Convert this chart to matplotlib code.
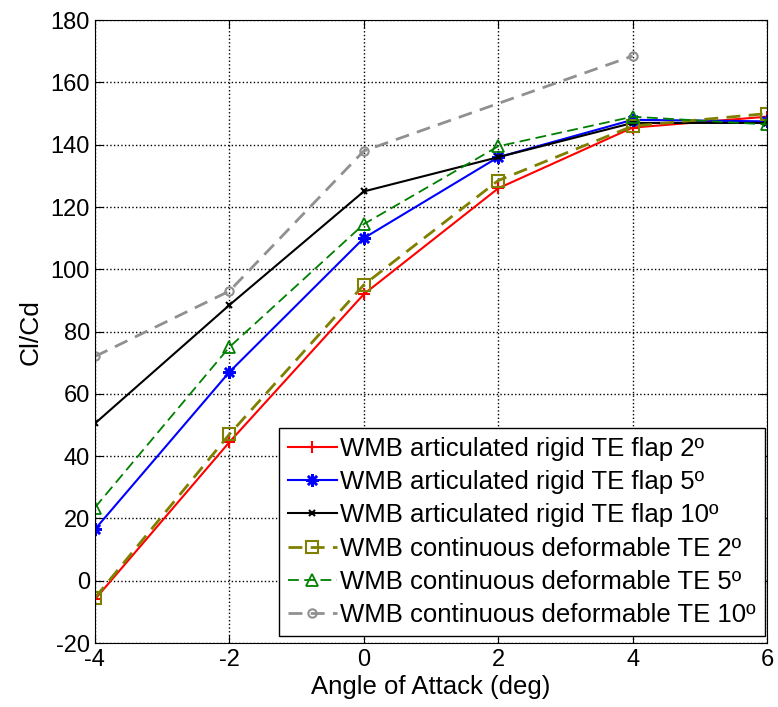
import matplotlib
matplotlib.use("Agg")
import matplotlib.pyplot as plt

plt.rcParams['font.family'] = ['Liberation Sans', 'DejaVu Sans']
plt.rcParams['axes.unicode_minus'] = False

aoa = [-4, -2, 0, 2, 4, 6]
aoa_cont10 = [-4, -2, 0, 4]

art_2 = [-6, 44.5, 92, 126, 145.5, 149]
art_5 = [16.5, 67, 110, 136, 148, 147.5]
art_10 = [50.5, 88.5, 125, 136, 147, 147]
cont_2 = [-5.5, 47, 95, 128.5, 146, 150]
cont_5 = [23.5, 75, 114.5, 139.5, 149, 146.5]
cont_10 = [72, 93, 138, 168.5]

labels = [
    "WMB articulated rigid TE flap 2º",
    "WMB articulated rigid TE flap 5º",
    "WMB articulated rigid TE flap 10º",
    "WMB continuous deformable TE 2º",
    "WMB continuous deformable TE 5º",
    "WMB continuous deformable TE 10º",
]

fig = plt.figure(figsize=(7.78, 7.07), dpi=100)
ax = fig.add_axes([0.122, 0.0905, 0.864, 0.881])

ax.plot(aoa, art_2, color='red', marker='+', ms=9, mew=1.5, lw=1.5, label=labels[0])
ax.plot(aoa, art_5, color='blue', marker=(8, 2, 0), ms=9, mew=1.8, lw=1.5, label=labels[1])
ax.plot(aoa, art_10, color='black', marker='x', ms=5, mew=1.5, lw=1.5, label=labels[2])
ax.plot(aoa, cont_2, color='#808000', ls='--', dashes=(5, 3), marker='s', ms=8,
        mfc='none', mew=1.5, lw=2, label=labels[3])
ax.plot(aoa, cont_5, color='#008000', ls='--', dashes=(6, 3), marker='^', ms=8,
        mfc='none', mew=1.3, lw=1.3, label=labels[4])
ax.plot(aoa_cont10, cont_10, color='#909090', ls='--', dashes=(5, 3), marker='o', ms=6,
        mfc='none', mew=1.5, lw=2, label=labels[5])

ax.set_xlim(-4, 6)
ax.set_ylim(-20, 180)
ax.set_xticks(range(-4, 7, 2))
ax.set_yticks(range(-20, 181, 20))
ax.tick_params(direction='in', top=True, right=True, labelsize=17, length=6)
ax.tick_params(axis='x', pad=4)
ax.grid(True, ls=':', color='black', lw=1)
ax.set_xlabel('Angle of Attack (deg)', fontsize=18.5, labelpad=3)
ax.set_ylabel('Cl/Cd', fontsize=19, labelpad=6)

leg = ax.legend(loc='lower right', bbox_to_anchor=(0.997, 0.011), borderaxespad=0,
                fontsize=18.5, fancybox=False, framealpha=1, edgecolor='black',
                handlelength=1.9, handletextpad=0.15, labelspacing=0.36,
                borderpad=0.35)
leg.get_frame().set_linewidth(1)

fig.savefig('out.png', dpi=100)
